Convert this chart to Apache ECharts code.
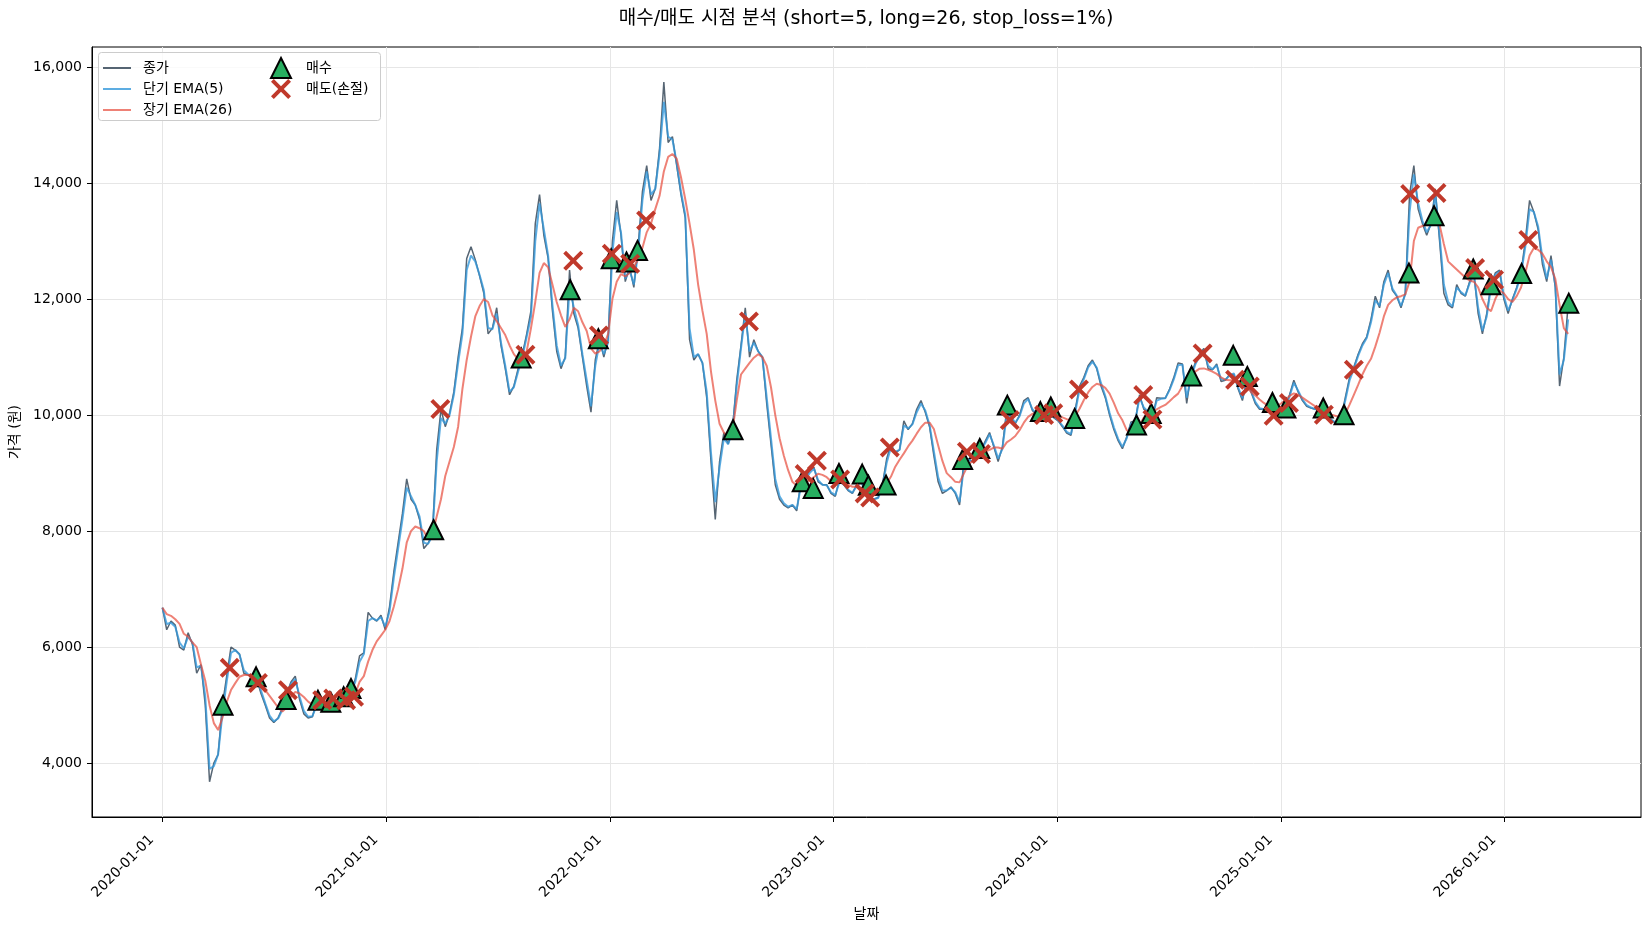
<!DOCTYPE html>
<html><head><meta charset="utf-8">
<script src="https://cdn.jsdelivr.net/npm/echarts@6/dist/echarts.min.js"></script>
<style>html,body{margin:0;padding:0;background:#fff}#c{width:1650px;height:930px}</style>
</head><body><div id="c"></div>
<script>
// weekly samples starting 2020-01-01
const startDate = '2020-01-01';
const close = [
6680,6300,6450,6380,6000,5950,6250,6050,5550,5700,
5000,3680,4000,4150,5000,5500,6000,5950,5880,5550,
5520,5520,5450,5200,5000,4780,4700,4780,4950,5200,
5400,5500,5100,4850,4780,4800,5050,5080,5000,5050,
5100,5080,5140,5100,5250,5450,5850,5900,6600,6500,
6450,6550,6300,6700,7300,7800,8300,8900,8550,8450,
8200,7700,7790,7950,9400,10100,9800,10030,10400,11000,
11500,12700,12900,12680,12400,12100,11400,11500,11850,11200,
10800,10350,10500,10800,11050,11400,11800,13300,13800,13100,
12700,11800,11100,10800,11000,12500,11750,11500,11000,10500,
10050,10950,11300,11000,11300,13000,13700,13100,12300,12550,
12200,12900,13850,14300,13700,13900,14600,15740,14700,14800,
14300,13800,13400,11300,10950,11050,10900,10300,9200,8200,
9200,9700,9500,9750,10600,11200,11850,11000,11300,11100,
11000,10200,9500,8800,8550,8450,8400,8450,8350,8850,
8900,9050,9100,8850,8800,8800,8650,8600,8900,8800,
8700,8650,8800,8900,8650,8550,8550,8580,8800,9250,
9500,9350,9400,9900,9750,9850,10100,10250,10050,9800,
9300,8850,8650,8700,8760,8650,8450,9200,9250,9200,
9450,9400,9550,9700,9450,9200,9450,10100,9950,9850,
10000,10250,10300,10080,10000,10060,10050,10100,9950,9900,
9800,9690,9650,10100,10500,10650,10850,10950,10800,10500,
10300,10000,9750,9560,9420,9620,9880,9900,10350,10100,
10050,9950,10300,10290,10290,10450,10650,10900,10880,10200,
10700,10900,11050,11150,10800,10780,10880,10580,10600,10700,
10700,10450,10250,10600,10400,10200,10100,10100,10150,10100,
9900,10100,10150,10350,10600,10400,10250,10150,10120,10100,
10150,10030,9950,9900,9850,9950,10300,10650,10830,11050,
11230,11350,11650,12050,11850,12300,12500,12150,12050,11850,
12100,13800,14300,13550,13300,13100,13300,13900,13000,12100,
11900,11850,12250,12100,12050,12300,12450,11750,11400,11750,
12250,12450,12500,12000,11750,12000,12200,12450,13000,13700,
13500,13200,12600,12300,12750,12200,10500,11000,11900
];
const emaShort = [
6680,6400,6420,6350,6080,5980,6180,6080,5650,5680,
5150,3900,3950,4150,4850,5400,5900,5950,5870,5600,
5530,5510,5460,5250,5030,4820,4720,4770,4920,5150,
5370,5450,5150,4900,4800,4810,5000,5060,5010,5040,
5080,5080,5120,5110,5220,5400,5750,5880,6450,6500,
6460,6520,6350,6620,7200,7700,8200,8750,8600,8450,
8250,7800,7780,7920,9200,9950,9850,10000,10350,10900,
11400,12500,12750,12650,12420,12150,11500,11480,11750,11250,
10850,10400,10480,10750,11000,11350,11700,13000,13650,13200,
12750,11900,11200,10850,10980,12200,11850,11550,11050,10600,
10150,10850,11250,11050,11250,12800,13500,13150,12350,12500,
12250,12800,13700,14200,13800,13900,14500,15400,14800,14750,
14350,13850,13450,11500,11000,11050,10900,10400,9350,8500,
9100,9600,9500,9720,10500,11150,11750,11100,11250,11100,
11000,10300,9600,8900,8600,8480,8420,8450,8380,8780,
8880,9000,9080,8880,8800,8790,8670,8620,8850,8800,
8710,8660,8780,8860,8680,8570,8550,8570,8760,9180,
9450,9370,9400,9820,9770,9840,10050,10200,10080,9830,
9380,8930,8700,8700,8750,8670,8500,9100,9230,9200,
9420,9400,9520,9670,9480,9250,9420,10000,9970,9870,
9980,10200,10280,10100,10020,10050,10050,10090,9970,9910,
9820,9710,9670,10050,10450,10620,10820,10920,10820,10550,
10330,10040,9790,9590,9450,9600,9850,9900,10300,10130,
10060,9970,10250,10280,10290,10430,10620,10860,10870,10300,
10650,10870,11020,11120,10850,10790,10860,10620,10610,10680,
10720,10480,10290,10560,10420,10230,10120,10100,10140,10110,
9930,10080,10140,10320,10560,10420,10270,10170,10130,10100,
10140,10040,9960,9910,9860,9940,10250,10600,10800,11020,
11200,11330,11600,11980,11880,12250,12450,12180,12060,11880,
12080,13500,14150,13650,13350,13150,13280,13800,13100,12250,
11950,11870,12200,12120,12060,12270,12420,11850,11450,11700,
12200,12420,12480,12050,11800,11980,12180,12420,12900,13550,
13500,13250,12700,12350,12680,12250,10700,10950,11650
];
const emaLong = [
6680,6570,6540,6480,6400,6230,6180,6080,6000,5700,
5420,5000,4690,4570,4780,5050,5260,5380,5490,5520,
5520,5510,5440,5340,5260,5160,5060,4960,4890,4960,
5150,5230,5200,5140,5060,5010,4980,4970,4970,4990,
5010,5030,5050,5080,5100,5200,5400,5500,5750,5950,
6100,6200,6300,6450,6700,7000,7350,7800,8000,8080,
8050,8000,7860,7950,8250,8550,8950,9200,9450,9800,
10450,10950,11350,11700,11880,12000,11950,11720,11620,11500,
11380,11200,11050,10960,11000,11100,11500,11950,12450,12620,
12550,12250,11950,11720,11520,11650,11850,11790,11600,11450,
11150,11060,11100,11200,11400,12000,12300,12430,12390,12450,
12560,12680,12880,13150,13300,13550,13780,14200,14450,14500,
14420,14100,13720,13300,12850,12250,11800,11400,10750,10250,
9850,9700,9620,9730,10250,10700,10800,10900,10990,11050,
11000,10850,10480,10000,9600,9300,9050,8850,8780,8770,
8830,8880,8930,8990,8970,8930,8860,8860,8880,8840,
8800,8765,8765,8740,8710,8690,8670,8650,8690,8820,
8940,9110,9230,9340,9460,9560,9680,9790,9870,9870,
9760,9480,9210,9000,8930,8850,8840,8990,9140,9210,
9270,9320,9370,9400,9440,9440,9420,9530,9580,9640,
9740,9870,9970,10020,10050,10057,10057,10040,10030,10005,
9960,9930,9914,9990,10110,10260,10390,10485,10540,10520,
10470,10370,10210,10030,9910,9740,9690,9720,9830,9960,
10020,10060,10100,10140,10175,10240,10310,10370,10500,10610,
10680,10750,10800,10805,10780,10750,10710,10650,10610,10600,
10600,10590,10550,10480,10400,10340,10270,10210,10160,10150,
10150,10200,10260,10330,10375,10350,10300,10250,10200,10150,
10110,10070,10040,10000,9980,9980,10020,10180,10350,10520,
10700,10850,10970,11180,11420,11700,11900,11980,12030,12050,
12080,12300,13000,13230,13260,13280,13300,13310,13280,12950,
12650,12580,12510,12440,12370,12320,12300,12200,12000,11850,
11790,12000,12150,12100,12000,11950,12050,12200,12450,12750,
12880,12850,12780,12650,12550,12350,11900,11500,11400
];
const buyDates = ['2020-04-09','2020-06-02','2020-07-21','2020-09-11','2020-10-02','2020-10-23','2020-11-04',
'2021-03-19','2021-08-09','2021-10-28','2021-12-13',
'2022-01-03','2022-01-28','2022-02-15','2022-07-21','2022-11-11','2022-11-29',
'2023-01-10','2023-02-17','2023-02-27','2023-03-28','2023-07-31','2023-08-28','2023-10-12','2023-12-05','2023-12-22',
'2024-01-30','2024-05-10','2024-06-03','2024-08-08','2024-10-15','2024-11-07','2024-12-18',
'2025-01-09','2025-03-11','2025-04-14','2025-07-29','2025-09-08','2025-11-11','2025-12-10',
'2026-01-29','2026-04-16'];
const buyPrices = [5000,5488,5098,5086,5050,5144,5288,
8023,10983,12160,11316,
12696,12638,12839,9747,8851,8736,
8994,8983,8790,8793,9236,9425,10172,10060,10140,
9943,9828,10029,10672,11030,10667,10218,
10121,10121,10006,12448,13437,12517,12247,
12440,11930];
const sellDates = ['2020-04-20','2020-06-05','2020-07-24','2020-09-18','2020-10-06','2020-10-27','2020-11-09',
'2021-03-30','2021-08-16','2021-11-02','2021-12-14',
'2022-01-04','2022-02-03','2022-03-01','2022-08-16','2022-11-15','2022-12-05',
'2023-01-12','2023-02-21','2023-03-02','2023-04-03','2023-08-07','2023-08-30','2023-10-16','2023-12-11','2023-12-26',
'2024-02-06','2024-05-21','2024-06-05','2024-08-26','2024-10-18','2024-11-11','2024-12-20',
'2025-01-14','2025-03-12','2025-04-30','2025-07-31','2025-09-12','2025-11-14','2025-12-15',
'2026-02-09'];
const sellPrices = [5643,5384,5259,5086,5115,5086,5144,
10104,11040,12660,11374,
12782,12609,13356,11615,8983,9213,
8891,8650,8580,9443,9368,9328,9914,10000,10030,
10443,10345,9925,11063,10610,10494,9989,
10207,10006,10782,13810,13828,12534,12333,
13020];
const xTickLabels = ['2020-01-01','2021-01-01','2022-01-01','2023-01-01','2024-01-01','2025-01-01','2026-01-01'];
const yTickValues = [4000,6000,8000,10000,12000,14000,16000];

const FONT = '"DejaVu Sans","Noto Sans CJK KR",sans-serif';
const DAY = 86400000;
const t0 = Date.parse(startDate);
const weekDates = close.map((_, i) => t0 + i * 7 * DAY);
const pair = arr => arr.map((v, i) => [weekDates[i], v]);
const pts = (ds, vs) => ds.map((d, i) => [Date.parse(d), vs[i]]);
const xTickValues = xTickLabels.map(d => Date.parse(d));
const xPath = 'path://M0,14 L14,0 L50,36 L86,0 L100,14 L64,50 L100,86 L86,100 L50,64 L14,100 L0,86 L36,50 Z';
const lineIcon = 'path://M0,0 L28,0 L28,2 L0,2 Z';

const chart = echarts.init(document.getElementById('c'));
chart.setOption({
  animation: false,
  backgroundColor: '#fff',
  textStyle: { fontFamily: FONT },
  grid: { left: 91, right: 9, top: 47, bottom: 113, show: true, borderColor: '#000', borderWidth: 1, containLabel: false },
  graphic: [
    { type: 'text', x: 866, y: 19, z: 10, style: { text: '매수/매도 시점 분석 (short=5, long=26, stop_loss=1%)', fontSize: 19, fontFamily: FONT, fill: '#000', align: 'center', verticalAlign: 'middle' } },
    { type: 'rect', z: 3, shape: { x: 98.5, y: 52.5, width: 282, height: 68, r: 3 }, style: { fill: 'rgba(255,255,255,0.8)', stroke: '#cccccc', lineWidth: 1 } }
  ],
  legend: [
    { data: [{ name: '종가', icon: lineIcon }, { name: '단기 EMA(5)', icon: lineIcon }, { name: '장기 EMA(26)', icon: lineIcon }],
      orient: 'vertical', left: 98, top: 56, itemWidth: 28, itemHeight: 14, itemGap: 7, z: 6,
      textStyle: { fontSize: 14, fontFamily: FONT, color: '#000', padding: [0, 0, 0, 7] } },
    { data: ['매수', '매도(손절)'], orient: 'vertical', left: 265, top: 52, itemWidth: 20, itemHeight: 20, itemGap: 0, z: 6,
      textStyle: { fontSize: 14, fontFamily: FONT, color: '#000', padding: [0, 0, 0, 10] } }
  ],
  xAxis: {
    type: 'value',
    min: Date.parse('2019-09-08'), max: Date.parse('2026-08-12'),
    name: '날짜', nameLocation: 'middle', nameGap: 89,
    nameTextStyle: { fontSize: 14, fontFamily: FONT, color: '#000' },
    axisLine: { show: true, onZero: false, lineStyle: { color: '#000', width: 1 } },
    axisTick: { show: true, length: 5, lineStyle: { color: '#000' }, customValues: xTickValues },
    axisLabel: { customValues: xTickValues, rotate: 45, margin: 10, fontSize: 14, fontFamily: FONT, color: '#000',
      padding: [0, 15, 0, 0],
      formatter: v => new Date(v).toISOString().slice(0, 10) },
    splitLine: { show: true, lineStyle: { color: '#e6e6e6', width: 1 } }
  },
  yAxis: {
    type: 'value', min: 3072, max: 16345,
    name: '가격 (원)', nameLocation: 'middle', nameGap: 70, nameRotate: 90,
    nameTextStyle: { fontSize: 14, fontFamily: FONT, color: '#000' },
    axisLine: { show: true, onZero: false, lineStyle: { color: '#000', width: 1 } },
    axisTick: { show: true, length: 5, lineStyle: { color: '#000' }, customValues: yTickValues },
    axisLabel: { customValues: yTickValues, margin: 10, fontSize: 14, fontFamily: FONT, color: '#000',
      formatter: v => Number(v).toLocaleString('en-US') },
    splitLine: { show: true, lineStyle: { color: '#e6e6e6', width: 1 } }
  },
  series: [
    { name: '종가', type: 'line', data: pair(close), symbol: 'none', showSymbol: false, z: 2,
      lineStyle: { color: '#2c3e50', width: 1.5, opacity: 0.8 }, itemStyle: { color: '#2c3e50', opacity: 0.8 } },
    { name: '단기 EMA(5)', type: 'line', data: pair(emaShort), symbol: 'none', showSymbol: false, z: 3,
      lineStyle: { color: '#3498db', width: 2, opacity: 0.8 }, itemStyle: { color: '#3498db', opacity: 0.8 } },
    { name: '장기 EMA(26)', type: 'line', data: pair(emaLong), symbol: 'none', showSymbol: false, z: 4,
      lineStyle: { color: '#e74c3c', width: 2, opacity: 0.7 }, itemStyle: { color: '#e74c3c', opacity: 0.7 } },
    { name: '매수', type: 'scatter', data: pts(buyDates, buyPrices), symbol: 'triangle', symbolSize: 19, z: 5,
      itemStyle: { color: '#27ae60', borderColor: '#000', borderWidth: 2, borderJoin: 'miter', opacity: 1 } },
    { name: '매도(손절)', type: 'scatter', data: pts(sellDates, sellPrices), symbol: xPath, symbolSize: 20, z: 6,
      itemStyle: { color: '#c0392b', opacity: 1 } }
  ]
});
</script>
</body></html>
